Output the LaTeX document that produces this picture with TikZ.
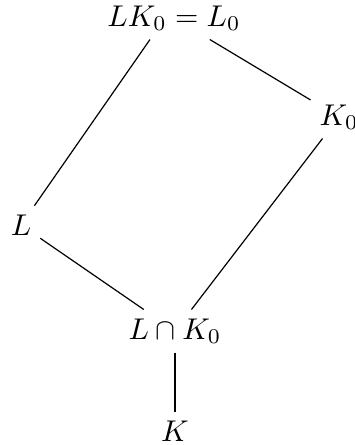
\documentclass[tikz,border=0pt]{standalone}
\begin{document}
\begin{tikzpicture}[x=0.33333pt,y=-0.33333pt,
  obj/.style={inner sep=3pt,outer sep=0pt},
  link/.style={line width=0.4pt}]
\useasboundingbox (0,0) rectangle (354,445);
\node[obj] (top) at (174,18) {$LK_0 = L_0$};
\node[obj] (K0) at (339,117) {$K_0$};
\node[obj] (L) at (21,225) {$L$};
\node[obj] (LK) at (175,331) {$L\cap K_0$};
\node[obj] (K) at (175,431) {$K$};
\coordinate (topL) at ([xshift=-8pt]top.south);
\draw[link] (topL) -- (L);
\draw[link] (top) -- (K0);
\draw[link] (L) -- (LK);
\draw[link] (K0) -- (LK);
\draw[link] (LK) -- (K);
\end{tikzpicture}
\end{document}
